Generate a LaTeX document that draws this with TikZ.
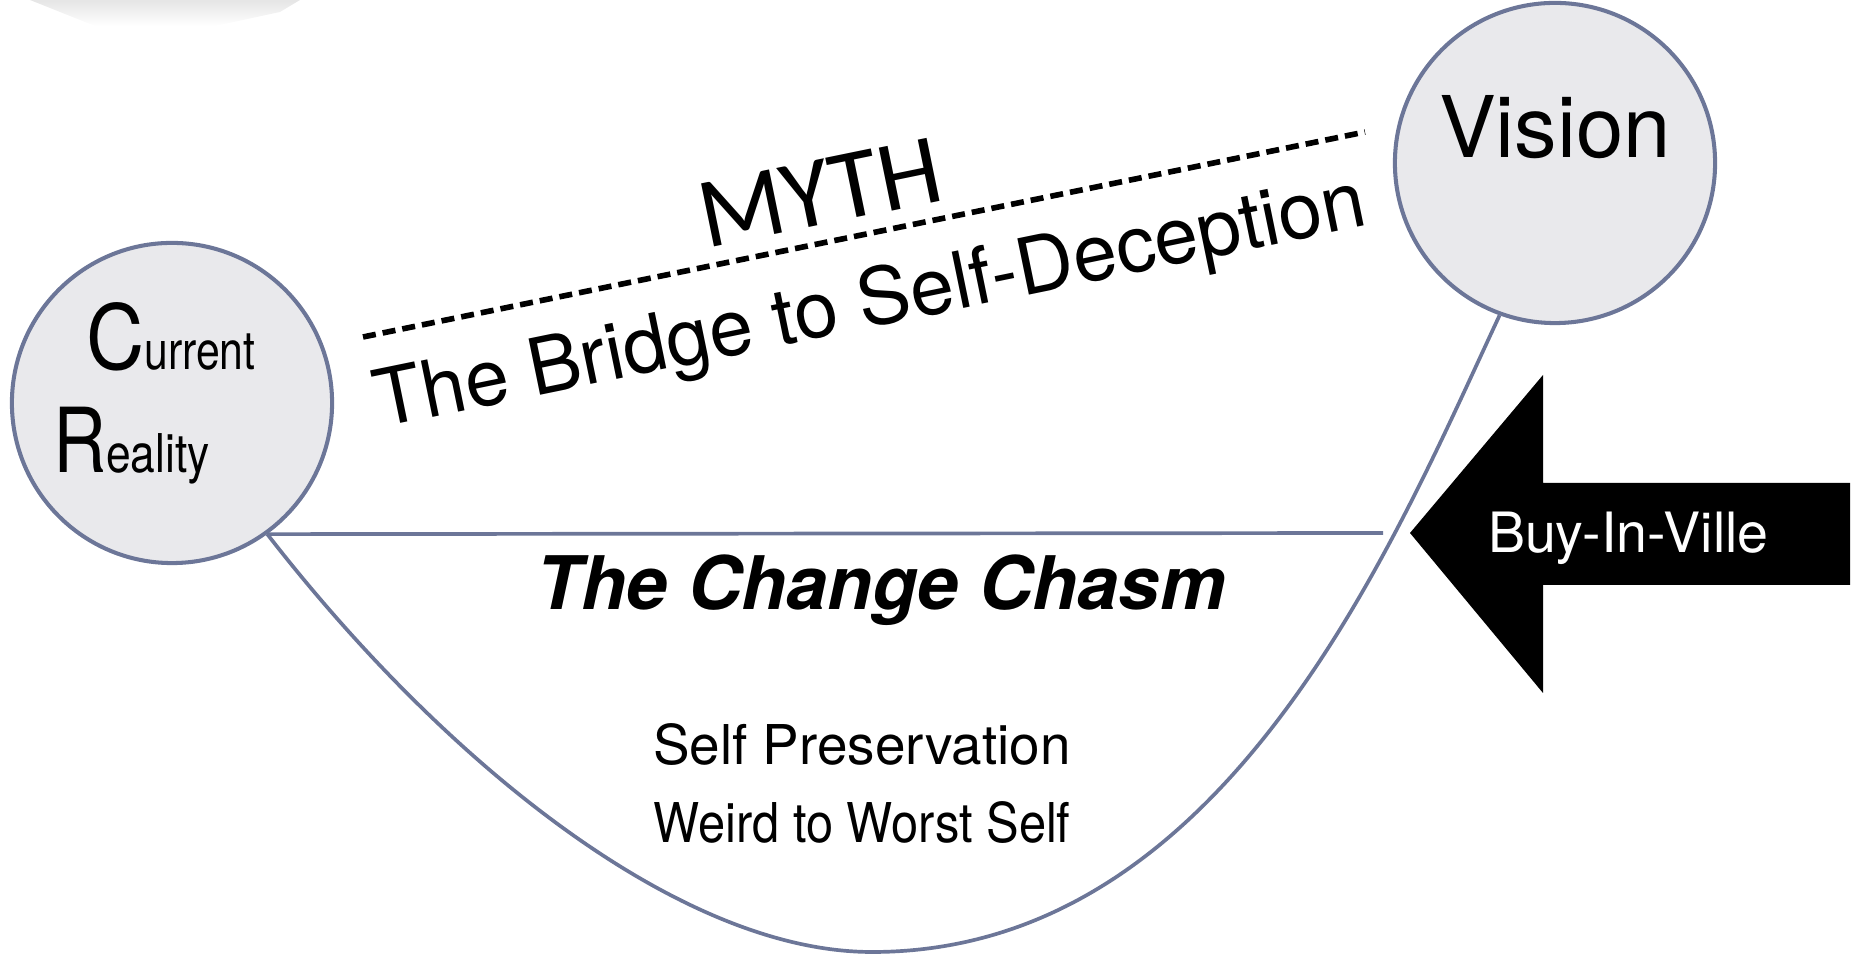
\documentclass[tikz,border=0pt]{standalone}
\usepackage{fontspec}
\usepackage{graphicx}
\setmainfont{TeX Gyre Heros}
\newfontfamily\mythfont{Carlito}
\definecolor{ringfill}{RGB}{233,233,236}
\definecolor{ringedge}{RGB}{108,118,152}
\newcommand{\fs}[1]{\fontsize{#1}{#1}\selectfont}

\begin{document}
\begin{tikzpicture}[x=0.01cm,y=0.01cm,
  ring/.style={circle, draw=ringedge, fill=ringfill, line width=1.15pt,
               minimum size=3.2cm, inner sep=0pt},
  chasm/.style={draw=ringedge, line width=1.05pt},
  txt/.style={inner sep=0pt, outer sep=0pt},
  bridge/.style={line width=1.6pt, dash pattern=on 3.7pt off 2pt},
]
\useasboundingbox (0,0) rectangle (1860,958);

% faint fragment along the top edge
\shade[top color=black!10, bottom color=white, draw=none]
  (30,958) -- (300,958) -- (280,946) -- (215,932) -- (95,932) -- (60,946) -- cycle;

% the two states
\node[ring] (cr)  at (172,555) {};
\node[ring] (vis) at (1555,795) {};

\node[txt, anchor=base west] (crC) at (86,588)
  {\scalebox{0.9}[1]{\fs{25.5}C}\scalebox{0.8}[1]{\fs{15.2}urrent}};
\node[txt, anchor=base west] (crR) at (53,485)
  {\scalebox{0.82}[1]{\fs{25.5}R}\scalebox{0.83}[1]{\fs{15.2}eality}};
\node[txt, anchor=base] (vistext) at (1555,800) {\fs{24.2}Vision};

% the chasm between them
\coordinate (rimend) at (1383,425);
\coordinate (floor) at (872,6);
\draw[chasm] (cr.-54) -- (rimend);
\draw[chasm] (cr.-54) .. controls (445,195) and (680,6) .. (floor)
                      .. controls (1225,6) and (1392,412) .. (vis.-110);

\node[txt, anchor=base] (chasmtitle) at (881,348)
  {\fs{21}\bfseries\itshape The Change Chasm};
\node[txt, anchor=base] (selfpres) at (862,193) {\fs{15.6}Self Preservation};
\node[txt, anchor=base] (weird) at (862,115)
  {\scalebox{0.89}[1]{\fs{15.6}Weird to Worst Self}};

% the dashed "bridge"
\coordinate (bridgeL) at (363,621);
\coordinate (bridgeR) at (1365,826);
\draw[bridge] (bridgeL) -- (bridgeR);
\node[txt, anchor=base west, rotate=11.6] (myth) at (706,709)
  {\mythfont\fs{28.5}MYTH};
\node[txt, anchor=base west, rotate=11.6] (bridgetext) at (380,530)
  {\fs{22.4}The Bridge to Self-Deception};

% Buy-In-Ville arrow
\fill[black] (1410,425) -- (1543,583) -- (1543,475) -- (1850,475)
  -- (1850,373) -- (1543,373) -- (1543,265) -- cycle;
\node[txt, anchor=base west, text=white] (buyin) at (1488,405)
  {\fs{15.8}Buy-In-Ville};
\end{tikzpicture}
\end{document}
